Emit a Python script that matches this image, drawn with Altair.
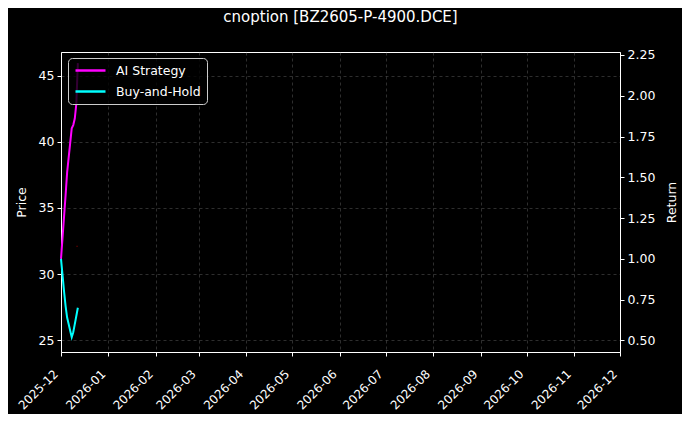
import altair as alt
import pandas as pd

# trading days shown in the reference (all within the first two weeks)
dates = ["2025-12-01", "2025-12-02", "2025-12-03", "2025-12-04", "2025-12-05",
         "2025-12-08", "2025-12-09", "2025-12-10", "2025-12-11", "2025-12-12"]
ai_strategy = [1.00, 1.13, 1.26, 1.39, 1.53, 1.80, 1.82, 1.86, 1.95, 2.20]
buy_and_hold = [1.00, 0.90, 0.80, 0.71, 0.64, 0.52, 0.55, 0.60, 0.65, 0.70]

price_dates = ["2025-12-11", "2025-12-12"]
price_values = [32.1, 32.1]

series_names = ["AI Strategy", "Buy-and-Hold"]
series_colors = ["#ff00ff", "#00ffff"]

month_ticks = [(2025, 12)] + [(2026, m) for m in range(1, 13)]
price_ticks = [25, 30, 35, 40, 45]
return_ticks = [0.50, 0.75, 1.00, 1.25, 1.50, 1.75, 2.00, 2.25]

FONT = "DejaVu Sans"

returns_df = pd.DataFrame({
    "date": dates * 2,
    "series": [series_names[0]] * len(dates) + [series_names[1]] * len(dates),
    "value": ai_strategy + buy_and_hold,
})
price_df = pd.DataFrame({"date": price_dates, "price": price_values})

tick_dates = [alt.DateTime(year=y, month=m, date=1, utc=True) for y, m in month_ticks]

x_enc = alt.X(
    "date:T", title=None,
    scale=alt.Scale(type="utc", domain=[tick_dates[0], tick_dates[-1]]),
    axis=alt.Axis(format="%Y-%m", values=tick_dates, labelOverlap=False,
                  labelAngle=-45, labelAlign="right", labelBaseline="top",
                  labelOffset=-9, labelPadding=12, labelFontSize=12),
)

# price on the left axis
price_layer = alt.Chart(price_df).mark_line(color="#8b0000", strokeWidth=1, opacity=0.8).encode(
    x=x_enc,
    y=alt.Y("price:Q", title="Price",
            scale=alt.Scale(domain=[24.1, 46.8], nice=False, zero=False),
            axis=alt.Axis(orient="left", values=price_ticks, titlePadding=10)),
)

# cumulative returns on the right axis
return_layer = alt.Chart(returns_df).mark_line(strokeWidth=2).encode(
    x=x_enc,
    y=alt.Y("value:Q", title="Return",
            scale=alt.Scale(domain=[0.429, 2.268], nice=False, zero=False),
            axis=alt.Axis(orient="right", values=return_ticks, format=".2f",
                          titleAngle=270, titleBaseline="top", titlePadding=11)),
    color=alt.Color("series:N", title=None,
                    scale=alt.Scale(domain=series_names, range=series_colors),
                    legend=alt.Legend(orient="none", legendX=7, legendY=6,
                                      symbolType="M-1,0H5", symbolSize=100, symbolStrokeWidth=2.5,
                                      labelOffset=29, rowPadding=8, padding=6,
                                      fillColor="rgba(0,0,0,0.8)", strokeColor="#cccccc",
                                      cornerRadius=4, labelFontSize=12.5, labelColor="white",
                                      labelFont=FONT)),
)

chart = alt.layer(price_layer, return_layer).resolve_scale(y="independent").properties(
    width=559,
    height=300,
    title=alt.TitleParams("cnoption [BZ2605-P-4900.DCE]", anchor="middle", frame="group",
                          offset=24, fontSize=15, color="white", font=FONT, fontWeight="normal"),
    autosize=alt.AutoSizeParams(type="none"),
    padding={"left": 53, "top": 44, "right": 62, "bottom": 62},
    background="black",
).configure_view(
    stroke="white", strokeWidth=1, fill="black"
).configure_axis(
    domainColor="white", tickColor="white", labelColor="white", titleColor="white",
    labelFont=FONT, titleFont=FONT, labelFontSize=12.5, titleFontSize=12.5,
    titleFontWeight="normal", tickSize=4, labelPadding=3,
    grid=True, gridColor="#808080", gridOpacity=0.45, gridDash=[3, 3], gridWidth=0.8,
)

chart.save("out.html", embed_options={"renderer": "svg", "actions": False})
